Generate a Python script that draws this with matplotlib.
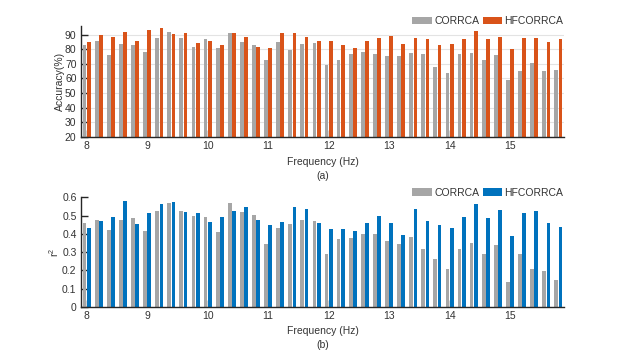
import numpy as np
import matplotlib.pyplot as plt
from matplotlib.ticker import FuncFormatter

# data
freqs = [round(8.0 + 0.2 * i, 1) for i in range(40)]
acc_corrca = [82.9, 85.9, 76.0, 83.6, 82.7, 78.3, 87.7, 91.8, 87.7, 81.8,
              86.8, 81.1, 90.9, 85.0, 82.7, 72.6, 85.0, 79.2, 83.6, 84.3,
              69.2, 72.6, 77.0, 78.3, 77.0, 75.1, 75.1, 77.6, 77.0, 67.6,
              63.7, 77.0, 77.6, 72.6, 76.0, 58.9, 65.1, 70.3, 65.1, 66.0]
acc_hfcorrca = [85.2, 89.5, 88.4, 91.8, 85.9, 93.4, 94.3, 90.2, 90.9, 84.3,
                85.9, 82.7, 90.9, 88.4, 81.8, 80.8, 90.9, 90.9, 88.4, 85.9,
                85.9, 82.7, 80.8, 85.9, 87.5, 89.3, 83.4, 87.5, 86.8, 82.7,
                83.4, 86.8, 92.5, 86.8, 88.4, 80.2, 87.5, 87.5, 85.0, 86.8]
r2_corrca = [0.459, 0.477, 0.422, 0.477, 0.486, 0.417, 0.523, 0.569, 0.527, 0.499,
             0.490, 0.409, 0.567, 0.519, 0.505, 0.345, 0.431, 0.453, 0.477, 0.470,
             0.290, 0.374, 0.378, 0.400, 0.402, 0.361, 0.345, 0.383, 0.319, 0.262,
             0.207, 0.319, 0.350, 0.288, 0.339, 0.136, 0.288, 0.207, 0.196, 0.145]
r2_hfcorrca = [0.435, 0.472, 0.490, 0.582, 0.453, 0.517, 0.563, 0.576, 0.519, 0.517,
               0.464, 0.494, 0.527, 0.549, 0.477, 0.448, 0.464, 0.547, 0.538, 0.461,
               0.426, 0.428, 0.417, 0.459, 0.497, 0.459, 0.396, 0.536, 0.472, 0.448,
               0.431, 0.492, 0.565, 0.488, 0.530, 0.387, 0.514, 0.527, 0.461, 0.439]
labels = ['CORRCA', 'HFCORRCA']

# style
plt.rcParams['font.family'] = ['Liberation Sans Narrow', 'Liberation Sans', 'DejaVu Sans']
plt.rcParams['font.size'] = 7.5
plt.rcParams['mathtext.default'] = 'regular'
text_color = '#333333'
grey = '#a6a6a6'
orange = '#d95319'
blue = '#0072bd'

x = np.array(freqs)
off = 0.035
bw = 0.062


def style_axes(ax):
    for s in ['top', 'right']:
        ax.spines[s].set_visible(False)
    for s in ['left', 'bottom']:
        ax.spines[s].set_color('#262626')
        ax.spines[s].set_linewidth(1.0)
    ax.tick_params(direction='in', length=5, width=1.0, colors='#262626',
                   labelcolor=text_color, pad=3)
    ax.set_xlim(7.9, 15.9)
    ax.set_xticks([8, 9, 10, 11, 12, 13, 14, 15])


fig = plt.figure(figsize=(6.23, 3.6), dpi=100)
ax1 = fig.add_axes([0.1295, 0.620, 0.7765, 0.308])
ax2 = fig.add_axes([0.1295, 0.148, 0.7765, 0.3035])

# (a) accuracy
ax1.bar(x - off, acc_corrca, width=bw, color=grey, label=labels[0], zorder=2)
ax1.bar(x + off, acc_hfcorrca, width=bw, color=orange, label=labels[1], zorder=2)
ax1.set_ylim(20, 96)
ax1.set_yticks(range(20, 91, 10))
ax1.yaxis.grid(True, color='#e3e3e3', linewidth=0.8, zorder=0)
ax1.set_axisbelow(True)
style_axes(ax1)
ax1.set_ylabel('Accuracy(%)', color=text_color, labelpad=0)
ax1.set_xlabel('Frequency (Hz)\n(a)', color=text_color, labelpad=4, linespacing=1.5)

# (b) r^2
ax2.bar(x - off, r2_corrca, width=bw, color=grey, label=labels[0], zorder=2)
ax2.bar(x + off, r2_hfcorrca, width=bw, color=blue, label=labels[1], zorder=2)
ax2.set_ylim(0, 0.6)
ax2.set_yticks(np.arange(0, 0.61, 0.1))
ax2.yaxis.set_major_formatter(FuncFormatter(lambda v, p: '0' if v == 0 else '%.1f' % v))
style_axes(ax2)
ax2.set_ylabel('r$^{2}$', color=text_color, labelpad=1)
ax2.set_xlabel('Frequency (Hz)\n(b)', color=text_color, labelpad=4, linespacing=1.5)

for ax in [ax1, ax2]:
    leg = ax.legend(loc='lower right', bbox_to_anchor=(1.0, 0.99), ncol=2,
                    frameon=False, handlelength=1.9, handleheight=0.7,
                    handletextpad=0.2, columnspacing=0.35, borderaxespad=0,
                    borderpad=0.1, fontsize=7.5)
    for t in leg.get_texts():
        t.set_color(text_color)

plt.savefig('out.png', dpi=100)
